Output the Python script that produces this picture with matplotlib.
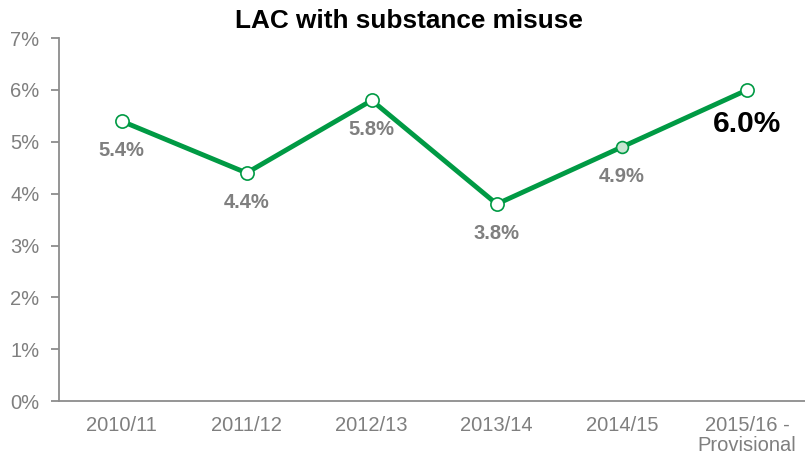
import matplotlib
matplotlib.use("Agg")
from matplotlib import pyplot as plt

years = ["2010/11", "2011/12", "2012/13", "2013/14", "2014/15", "2015/16 -\nProvisional"]
rates = [5.4, 4.4, 5.8, 3.8, 4.9, 6.0]
labels = ["5.4%", "4.4%", "5.8%", "3.8%", "4.9%", "6.0%"]
yticks = [0, 1, 2, 3, 4, 5, 6, 7]

green = "#009a44"
grey = "#7f7f7f"
plt.rcParams["font.family"] = ["Liberation Sans", "DejaVu Sans"]

fig = plt.figure(figsize=(8.05, 4.57), dpi=100)
ax = fig.add_axes([0.0733, 0.1225, 0.9267, 0.794])

x = list(range(len(years)))
ax.plot(x, rates, color=green, lw=3.5, zorder=2)
# markers: the 2014/15 point is drawn highlighted
for i, v in enumerate(rates):
    if i == 4:
        ax.plot(i, v, "o", ms=8.5, mfc="#c8e6d2", mec=green, mew=1.2, ls="none", zorder=3)
    else:
        ax.plot(i, v, "o", ms=9.5, mfc="white", mec=green, mew=1.2, zorder=3)

for i, (v, t) in enumerate(zip(rates, labels)):
    if i == len(rates) - 1:
        ax.annotate(t, (i, v), xytext=(0, -24.5), textcoords="offset points",
                    ha="center", va="center", fontsize=21.5, fontweight="bold", color="black")
    else:
        ax.annotate(t, (i, v), xytext=(0, -21), textcoords="offset points",
                    ha="center", va="center", fontsize=14.5, fontweight="bold", color=grey)

ax.set_xlim(-0.5, 5.464)
ax.set_ylim(0, 7)
ax.set_yticks(yticks)
ax.set_yticklabels([f"{t}%" for t in yticks])
ax.set_xticks(x)
ax.set_xticklabels(years, linespacing=1.05)

for s in ("top", "right"):
    ax.spines[s].set_visible(False)
for s in ("left", "bottom"):
    ax.spines[s].set_color("#8c8c8c")
    ax.spines[s].set_linewidth(1.3)
ax.tick_params(axis="y", colors="#8c8c8c", labelcolor=grey, labelsize=14.5, length=6, width=1.3, pad=8)
ax.tick_params(axis="x", labelcolor=grey, labelsize=14.5, length=0, pad=11)

fig.text(0.508, 0.955, "LAC with substance misuse", ha="center", va="center",
         fontsize=18.8, fontweight="bold")

fig.savefig("out.png", dpi=100)
